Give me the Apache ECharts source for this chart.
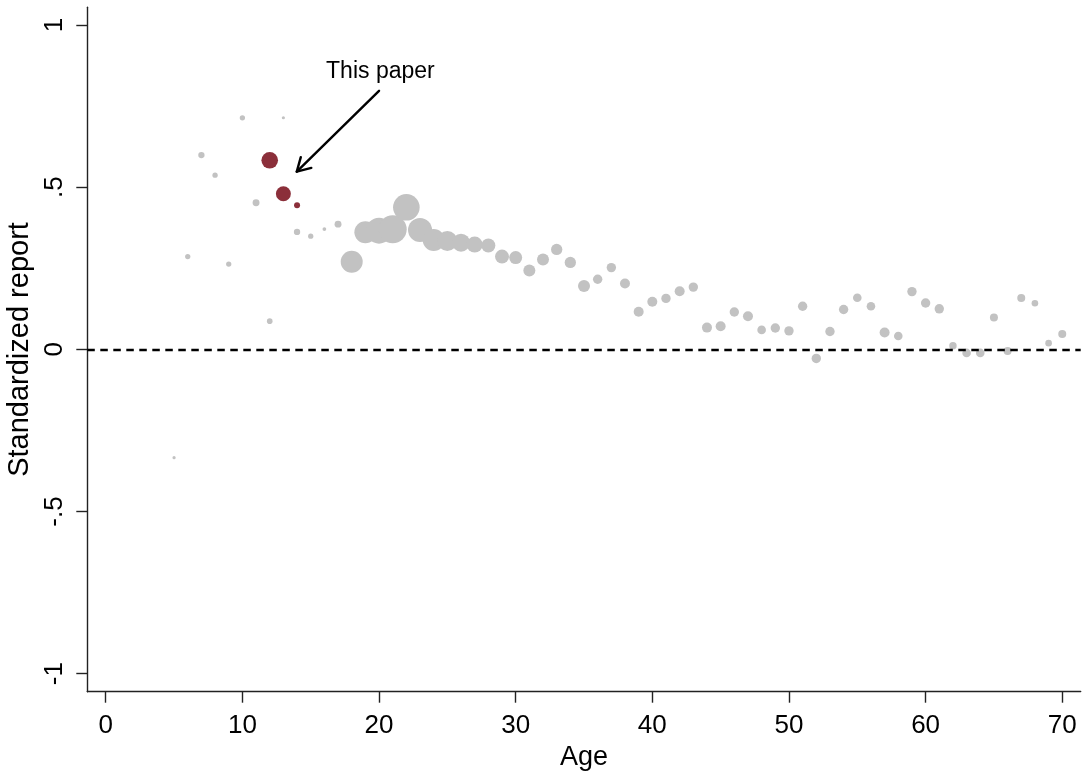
<!DOCTYPE html>
<html>
<head>
<meta charset="utf-8">
<script src="https://cdn.jsdelivr.net/npm/echarts@6/dist/echarts.min.js"></script>
<style>
html,body{margin:0;padding:0;background:#fff;}
#chart{width:1085px;height:772px;}
</style>
</head>
<body>
<div id="chart"></div>
<script>
// ---- data ----
const otherAges = [5,6,7,8,9,10,11,12,13,14,15,16,17,18,19,20,21,22,23,24,25,26,27,28,29,30,31,32,33,34,35,36,37,38,39,40,41,42,43,44,45,46,47,48,49,50,51,52,53,54,55,56,57,58,59,60,61,62,63,64,65,66,67,68,69,70];
const otherValues = [-0.334,0.286,0.599,0.537,0.263,0.714,0.452,0.087,0.714,0.362,0.349,0.371,0.386,0.270,0.361,0.366,0.370,0.438,0.368,0.337,0.334,0.329,0.323,0.320,0.286,0.283,0.243,0.277,0.308,0.268,0.195,0.216,0.252,0.203,0.116,0.147,0.157,0.179,0.192,0.067,0.071,0.115,0.102,0.060,0.066,0.057,0.133,-0.028,0.055,0.123,0.159,0.133,0.052,0.041,0.178,0.143,0.125,0.011,-0.011,-0.011,0.098,-0.005,0.158,0.142,0.019,0.047];
// relative sample weights (marker area)
const otherWeights = [2.5,7,10,7,7,7,12,8,2.5,10,7,3.5,12,121,121,169,196,177,144,121,100,81,64,49,49,42,36,36,32,32,36,22,22,25,25,25,22,25,22,25,25,22,25,18.5,22,22,22,22,22,22,18.5,18.5,25,18.5,22,22,22,14,18.5,18.5,16,16,16,11,11,16];

const paperAges = [12,13,14];
const paperValues = [0.583,0.480,0.444];
const paperWeights = [69,56,9];

const xTicks = [0,10,20,30,40,50,60,70];
const yTicks = [-1,-0.5,0,0.5,1];

const annotationText = "This paper";
const annotationTextAt = [20.1, 0.855];
const arrowFrom = [20.0, 0.797];
const arrowTo = [13.98, 0.548];

// ---- chart ----
const font = "'Liberation Sans', Arial, sans-serif";
const sizeOf = w => 2 * Math.sqrt(w);
const fmtY = v => {
  if (v === 0) return "0";
  if (v === 1) return "1";
  if (v === -1) return "-1";
  return (v < 0 ? "-" : "") + String(Math.abs(v)).replace(/^0/, "");
};

const chart = echarts.init(document.getElementById('chart'), null, {renderer: 'canvas'});
chart.setOption({
  animation: false,
  backgroundColor: '#ffffff',
  grid: {left: 87.3, right: 4.3, top: 7.3, bottom: 80.3, containLabel: false, outerBoundsMode: 'none'},
  xAxis: {
    type: 'value', min: -1.35, max: 71.35,
    name: 'Age', nameLocation: 'middle', nameGap: 43,
    nameTextStyle: {fontFamily: font, fontSize: 27, color: '#000'},
    axisLine: {show: true, onZero: false, lineStyle: {color: '#222', width: 1.4}},
    axisTick: {show: true, length: 11, customValues: xTicks, lineStyle: {color: '#222', width: 1.4}},
    axisLabel: {customValues: xTicks, margin: 21, fontFamily: font, fontSize: 26, color: '#000'},
    splitLine: {show: false}
  },
  yAxis: {
    type: 'value', min: -1.0555, max: 1.0546,
    name: 'Standardized report', nameLocation: 'middle', nameRotate: 90, nameGap: 47,
    nameTextStyle: {fontFamily: font, fontSize: 29, color: '#000'},
    axisLine: {show: true, onZero: false, lineStyle: {color: '#222', width: 1.4}},
    axisTick: {show: true, length: 11, customValues: yTicks, lineStyle: {color: '#222', width: 1.4}},
    axisLabel: {customValues: yTicks, rotate: 90, margin: 19, fontFamily: font, fontSize: 26, color: '#000', formatter: fmtY},
    splitLine: {show: false}
  },
  series: [
    {
      type: 'scatter',
      data: otherAges.map((a, i) => [a, otherValues[i], otherWeights[i]]),
      symbolSize: d => sizeOf(d[2]),
      itemStyle: {color: '#c2c2c2', opacity: 1},
      z: 2,
      markLine: {
        silent: true, symbol: ['none', 'none'],
        label: {show: false},
        lineStyle: {color: '#000', width: 2.4, type: [7.5, 5.5]},
        data: [{yAxis: 0}]
      }
    },
    {
      type: 'scatter',
      data: paperAges.map((a, i) => [a, paperValues[i], paperWeights[i]]),
      symbolSize: d => sizeOf(d[2]),
      itemStyle: {color: '#8b2f3a', opacity: 1},
      z: 3
    },
    {
      type: 'custom',
      silent: true,
      z: 4,
      data: [[arrowFrom[0], arrowFrom[1], arrowTo[0], arrowTo[1], annotationTextAt[0], annotationTextAt[1]]],
      renderItem: function (params, api) {
        const p0 = api.coord([api.value(0), api.value(1)]);
        const p1 = api.coord([api.value(2), api.value(3)]);
        const pt = api.coord([api.value(4), api.value(5)]);
        const ang = Math.atan2(p0[1] - p1[1], p0[0] - p1[0]);
        const hl = 15, ha = Math.PI / 6;
        const h1 = [p1[0] + hl * Math.cos(ang + ha), p1[1] + hl * Math.sin(ang + ha)];
        const h2 = [p1[0] + hl * Math.cos(ang - ha), p1[1] + hl * Math.sin(ang - ha)];
        const st = {stroke: '#000', lineWidth: 2.4, fill: null, lineCap: 'round', lineJoin: 'round'};
        return {
          type: 'group',
          children: [
            {type: 'polyline', shape: {points: [p0, p1]}, style: st},
            {type: 'polyline', shape: {points: [h1, p1, h2]}, style: st},
            {type: 'text', x: pt[0], y: pt[1], style: {text: annotationText, fontFamily: font, fontSize: 23, fill: '#000', align: 'center', verticalAlign: 'middle'}}
          ]
        };
      }
    }
  ]
});
</script>
</body>
</html>
